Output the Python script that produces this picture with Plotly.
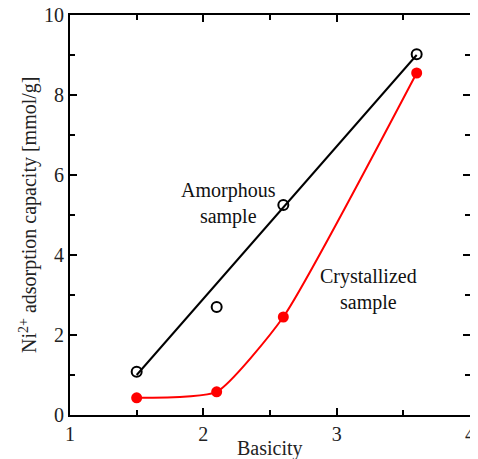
import plotly.graph_objects as go

basicity = [1.5, 2.1, 2.6, 3.6]
amorphous = [1.08, 2.7, 5.25, 9.02]
crystallized = [0.43, 0.58, 2.45, 8.55]
amorph_fit_x = [1.5, 3.6]
amorph_fit_y = [1.0, 9.0]

FONT = "Liberation Serif, Times New Roman, serif"

fig = go.Figure()
fig.add_trace(go.Scatter(x=amorph_fit_x, y=amorph_fit_y, mode="lines",
                         line=dict(color="black", width=2), showlegend=False))
fig.add_trace(go.Scatter(x=basicity, y=crystallized, mode="lines",
                         line=dict(color="red", width=2, shape="spline", smoothing=0.5),
                         showlegend=False))
fig.add_trace(go.Scatter(x=basicity, y=amorphous, mode="markers",
                         marker=dict(symbol="circle-open", size=10, color="black",
                                     line=dict(width=2)), showlegend=False))
fig.add_trace(go.Scatter(x=basicity, y=crystallized, mode="markers",
                         marker=dict(symbol="circle", size=11, color="red"), showlegend=False))

axis_common = dict(showline=True, linewidth=2, linecolor="black", mirror="ticks",
                   ticks="inside", ticklen=7, tickwidth=2, tickcolor="black",
                   showgrid=False, zeroline=False, automargin=False,
                   ticklabeloverflow="allow",
                   tickfont=dict(family=FONT, size=20, color="#222"))

fig.update_xaxes(range=[1, 4], tick0=1, dtick=1,
                 minor=dict(dtick=0.5, ticks="inside", ticklen=5, tickwidth=2, tickcolor="black"),
                 **axis_common)
fig.update_yaxes(range=[0, 10], tick0=0, dtick=2,
                 minor=dict(dtick=1, ticks="inside", ticklen=5, tickwidth=2, tickcolor="black"),
                 **axis_common)

fig.add_annotation(xref="paper", yref="paper", x=0.5, y=0, yshift=-33, yanchor="middle",
                   text="Basicity", showarrow=False,
                   font=dict(family=FONT, size=20, color="#222"))
fig.add_annotation(xref="paper", yref="paper", x=0, y=0.5, xshift=-42, xanchor="center",
                   textangle=-90, text="Ni<sup>2+</sup> adsorption capacity [mmol/g]",
                   showarrow=False, font=dict(family=FONT, size=20, color="#222"))

fig.add_annotation(x=2.19, y=5.3, text="Amorphous<br>sample", showarrow=False,
                   font=dict(family=FONT, size=20, color="#111"))
fig.add_annotation(x=3.24, y=3.15, text="Crystallized<br>sample", showarrow=False,
                   font=dict(family=FONT, size=20, color="#111"))

# page body has an 8px default margin, so the figure is shrunk and margins offset
fig.update_layout(width=470, height=451, margin=dict(l=62, r=8, t=7, b=44),
                  plot_bgcolor="white", paper_bgcolor="white")

fig.write_html("out.html")
